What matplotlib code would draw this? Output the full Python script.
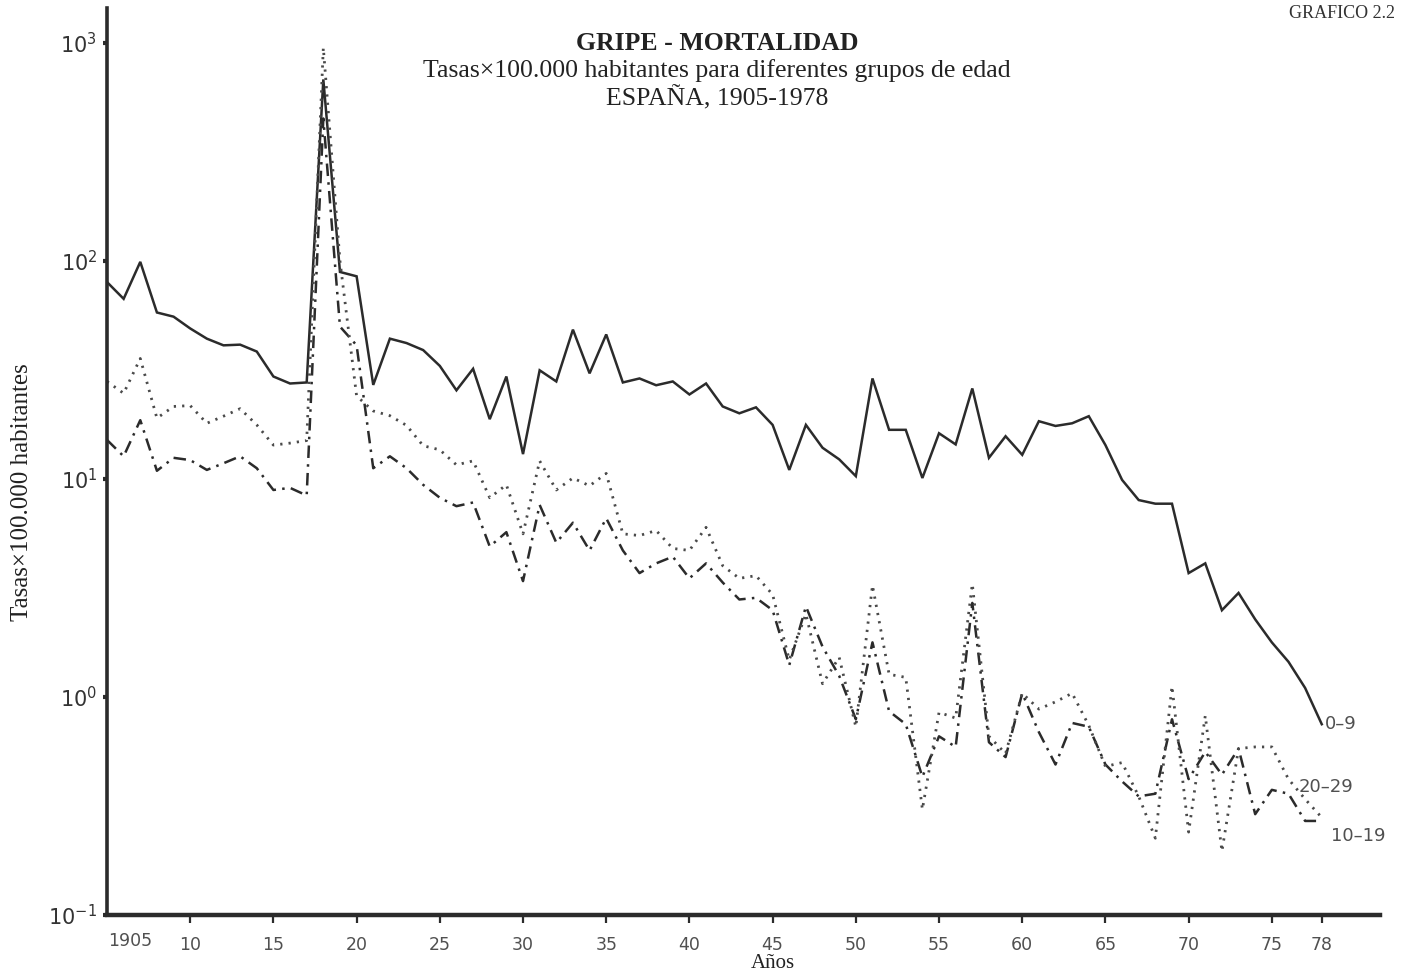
import matplotlib
matplotlib.use("Agg")
import matplotlib.pyplot as plt
import numpy as np

# Influenza mortality per 100,000 inhabitants, Spain 1905-1978
years = list(range(1905, 1979))

rate_0_9 = [
    80, 67, 99, 58, 55.5, 49, 44, 41, 41.3, 38.4,          # 1905-1914
    29.5, 27.4, 27.7, 680, 89, 85, 27, 44, 42, 39,          # 1915-1924
    33, 25.5, 32, 18.8, 29.5, 13.0, 31.5, 28, 48.4, 30.5,   # 1925-1934
    46, 27.7, 28.9, 26.9, 28, 24.4, 27.4, 21.5, 20, 21.3,   # 1935-1944
    17.7, 11.0, 17.7, 13.9, 12.3, 10.3, 28.9, 16.8, 16.8, 10.1,  # 1945-1954
    16.2, 14.4, 26, 12.5, 15.7, 12.9, 18.4, 17.5, 18.0, 19.4,    # 1955-1964
    14.3, 9.9, 8.0, 7.7, 7.7, 3.7, 4.1, 2.5, 3.0, 2.27,          # 1965-1974
    1.78, 1.45, 1.1, 0.75,                                       # 1975-1978
]

rate_10_19 = [
    15.1, 12.7, 18.6, 10.9, 12.5, 12.2, 11.0, 11.8, 12.7, 11.2,
    8.9, 9.1, 8.4, 450, 50, 41, 11.2, 12.7, 11.2, 9.4,
    8.2, 7.5, 7.8, 4.9, 5.7, 3.4, 7.6, 5.1, 6.3, 4.7,
    6.6, 4.7, 3.7, 4.1, 4.4, 3.5, 4.1, 3.35, 2.8, 2.85,
    2.5, 1.4, 2.6, 1.7, 1.25, 0.79, 1.78, 0.86, 0.75, 0.43,
    0.66, 0.59, 2.7, 0.62, 0.53, 1.04, 0.69, 0.49, 0.76, 0.73,
    0.49, 0.41, 0.35, 0.36, 0.79, 0.42, 0.56, 0.44, 0.58, 0.29,
    0.375, 0.36, 0.27, 0.27,
]

rate_20_29 = [
    28, 24.7, 35.7, 19, 21.5, 21.7, 18, 19.4, 21, 17.7,
    14.3, 14.6, 15, 950, 100, 24, 20.5, 19.5, 17.6, 14.2,
    13.6, 11.6, 12.1, 8.2, 9.4, 5.6, 12.1, 8.9, 10.1, 9.3,
    10.6, 5.6, 5.5, 5.8, 4.8, 4.7, 6.0, 4.0, 3.5, 3.6,
    2.95, 1.48, 2.4, 1.15, 1.52, 0.73, 3.25, 1.27, 1.23, 0.305,
    0.85, 0.8, 3.3, 0.66, 0.55, 1.04, 0.88, 0.95, 1.04, 0.74,
    0.48, 0.5, 0.35, 0.225, 1.12, 0.24, 0.82, 0.196, 0.58, 0.59,
    0.59, 0.42, 0.34, 0.28,
]

x_ticks = [1910, 1915, 1920, 1925, 1930, 1935, 1940, 1945, 1950,
           1955, 1960, 1965, 1970, 1975, 1978]
x_labels = ["10", "15", "20", "25", "30", "35", "40", "45", "50",
            "55", "60", "65", "70", "75", "78"]
y_ticks = [0.1, 1, 10, 100, 1000]
y_labels = [r"$10^{-1}$", r"$10^{0}$", r"$10^{1}$", r"$10^{2}$", r"$10^{3}$"]

W, H = 1401, 975
fig = plt.figure(figsize=(W / 100, H / 100), dpi=100)
ax = fig.add_axes([107 / W, 1 - 915 / H, (1380 - 107) / W, (915 - 8) / H])

ink = "#2b2b2b"
ax.plot(years, rate_0_9, color=ink, lw=1.8, solid_joinstyle="miter")
ax.plot(years, rate_10_19, color=ink, lw=1.8, linestyle=(0, (5, 2.5, 1, 2.5)))
ax.plot(years, rate_20_29, color="#4a4a4a", lw=2.0, linestyle=(0, (0.8, 2.2)))

ax.set_yscale("log")
ax.set_ylim(10 ** -1.0, 10 ** 3.16)
ax.set_xlim(1905, 1981.5)

for side in ("top", "right"):
    ax.spines[side].set_visible(False)
ax.spines["left"].set_linewidth(2.6)
ax.spines["bottom"].set_linewidth(3.2)
ax.spines["left"].set_color(ink)
ax.spines["bottom"].set_color(ink)

ax.set_yticks(y_ticks)
ax.set_yticklabels(y_labels, fontsize=15, color="#333333", family="DejaVu Serif")
ax.yaxis.set_minor_locator(matplotlib.ticker.NullLocator())
ax.tick_params(axis="y", length=3, width=3, color=ink, pad=4)

ax.set_xticks(x_ticks)
ax.set_xticklabels(x_labels, fontsize=12.5, color="#505050")
ax.tick_params(axis="x", length=6, width=1.6, color=ink, pad=9)
fig.text(130 / W, 1 - 941 / H, "1905", fontsize=12.5, color="#505050",
         ha="center", va="center")

# titles
serif = "Liberation Serif"
fig.text(717 / W, 1 - 43 / H, "GRIPE - MORTALIDAD", family=serif,
         fontsize=18.5, fontweight="bold", ha="center", va="center", color="#222222")
fig.text(717 / W, 1 - 71 / H,
         "Tasas\u00d7100.000 habitantes para diferentes grupos de edad",
         family=serif, fontsize=18.5, ha="center", va="center", color="#222222")
fig.text(717 / W, 1 - 98 / H, "ESPA\u00d1A, 1905-1978", family=serif,
         fontsize=18.5, ha="center", va="center", color="#222222")
fig.text(1342 / W, 1 - 13 / H, "GRAFICO 2.2", family=serif, fontsize=13,
         ha="center", va="center", color="#333333")

fig.text(22 / W, 1 - 492 / H, "Tasas\u00d7100.000 habitantes", family=serif,
         fontsize=18, rotation=90, ha="center", va="center", color="#222222")
fig.text(773 / W, 1 - 964 / H, "A\u00f1os", family=serif, fontsize=15,
         ha="center", va="center", color="#222222")

# group labels at the end of each curve
lab = dict(fontsize=13, color="#505050", va="center", ha="left")
ax.annotate("0\u20139", (years[-1], rate_0_9[-1]), xytext=(2, 0),
            textcoords="offset points", **lab)
ax.annotate("20\u201329", (years[-1], rate_20_29[-1]), xytext=(-17, 22),
            textcoords="offset points", **lab)
ax.annotate("10\u201319", (years[-1], rate_10_19[-1]), xytext=(7, -11),
            textcoords="offset points", **lab)

fig.savefig("out.png", dpi=100, facecolor="white")
